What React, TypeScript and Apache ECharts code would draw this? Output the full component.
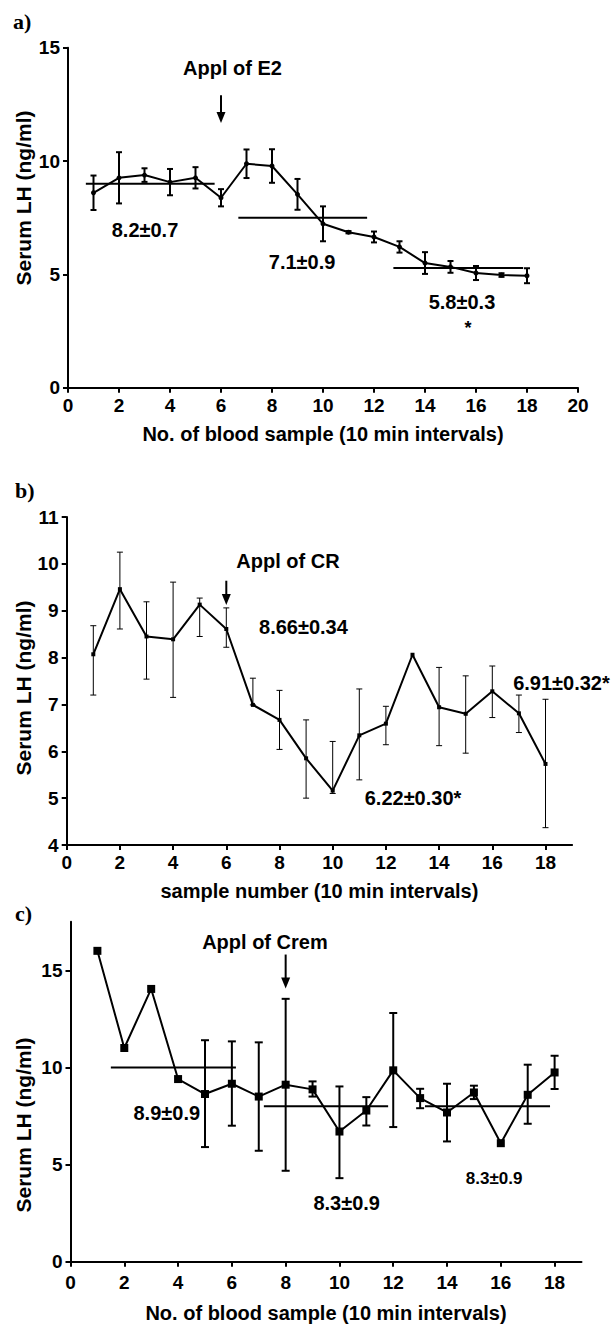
import React, { useEffect, useRef } from "react";
import * as echarts from "echarts";

// ---------- data ----------
const samples = [1, 2, 3, 4, 5, 6, 7, 8, 9, 10, 11, 12, 13, 14, 15, 16, 17, 18];

// Panel a) E2
const aMean = [8.6, 9.26, 9.38, 9.07, 9.26, 8.38, 9.88, 9.78, 8.53, 7.23, 6.86, 6.65, 6.21, 5.5, 5.33, 5.06, 4.97, 4.94];
const aSem = [0.76, 1.13, 0.3, 0.58, 0.47, 0.38, 0.63, 0.74, 0.68, 0.77, 0.05, 0.24, 0.25, 0.48, 0.26, 0.31, 0.08, 0.33];
const aMeanLines = [
  [0.7, 5.75, 9.0],
  [6.68, 11.73, 7.5],
  [12.76, 17.85, 5.28],
];
const aLabels = ["Appl of E2", "8.2±0.7", "7.1±0.9", "5.8±0.3", "*"];
const aXTicks = [0, 2, 4, 6, 8, 10, 12, 14, 16, 18, 20];
const aYTicks = [0, 5, 10, 15];

// Panel b) CR
const bMean = [8.07, 9.46, 8.45, 8.39, 9.13, 8.61, 6.99, 6.67, 5.85, 5.16, 6.34, 6.59, 8.06, 6.94, 6.8, 7.28, 6.81, 5.73];
const bHigh = [8.68, 10.25, 9.19, 9.61, 9.27, 9.06, 7.56, 7.3, 6.67, 6.21, 7.33, 6.96, null, 7.79, 7.61, 7.82, 7.2, 7.11];
const bLow = [7.2, 8.61, 7.54, 7.15, 8.45, 8.22, 6.99, 6.04, 5.0, 5.1, 5.39, 6.14, null, 6.12, 5.96, 6.72, 6.4, 4.37];
const bLabels = ["Appl of CR", "8.66±0.34", "6.22±0.30*", "6.91±0.32*"];
const bXTicks = [0, 2, 4, 6, 8, 10, 12, 14, 16, 18];
const bYTicks = [4, 5, 6, 7, 8, 9, 10, 11];

// Panel c) Crem
const cMean = [16.0, 11.0, 14.04, 9.4, 8.63, 9.16, 8.5, 9.11, 8.87, 6.7, 7.78, 9.85, 8.42, 7.68, 8.71, 6.1, 8.59, 9.74];
const cHigh = [null, null, null, null, 11.4, 11.34, 11.29, 13.53, 9.28, 9.02, 8.47, 12.8, 8.9, 9.16, 9.06, null, 10.14, 10.6];
const cLow = [null, null, null, null, 5.9, 7.0, 5.71, 4.68, 8.5, 4.3, 7.01, 6.93, 7.9, 6.19, 8.37, null, 7.1, 8.89];
const cMeanLines = [
  [1.5, 6.15, 10.0],
  [7.19, 11.81, 8.0],
  [13.18, 17.83, 8.0],
];
const cLabels = ["Appl of Crem", "8.9±0.9", "8.3±0.9", "8.3±0.9"];
const cXTicks = [0, 2, 4, 6, 8, 10, 12, 14, 16, 18];
const cYTicks = [0, 5, 10, 15];

// ---------- layout (annotation anchors in data units, sizes) ----------
const aNotePos = [
  { x: 6.45, y: 14.1, s: 20 },
  { x: 3.02, y: 6.95, s: 20 },
  { x: 9.18, y: 5.55, s: 20 },
  { x: 15.45, y: 3.78, s: 20 },
  { x: 15.69, y: 2.65, s: 18 },
];
const bNotePos = [
  { x: 8.32, y: 10.06, s: 20 },
  { x: 8.9, y: 8.65, s: 20 },
  { x: 13.02, y: 5.0, s: 20 },
  { x: 18.6, y: 7.46, s: 20 },
];
const cNotePos = [
  { x: 7.23, y: 16.43, s: 20 },
  { x: 3.58, y: 7.64, s: 20 },
  { x: 10.27, y: 3.01, s: 20 },
  { x: 15.75, y: 4.26, s: 17 },
];
const aArrow = [6, 12.9, 11.68];
const bArrow = [6, 9.64, 9.12];
const cArrow = [8, 15.81, 14.06];

const SANS = '"Liberation Sans", Arial, sans-serif';
const SERIF = '"Liberation Serif", "Times New Roman", serif';

function xAxisCfg(gridIndex: number, max: number, ticks: number[], name: string, nameGap: number, margin: number) {
  return {
    type: "value",
    gridIndex,
    min: 0,
    max,
    interval: 2,
    name,
    nameLocation: "middle",
    nameGap,
    nameTextStyle: { color: "#000", fontFamily: SANS, fontWeight: "bold", fontSize: 20 },
    axisLine: { show: true, onZero: false, lineStyle: { color: "#000", width: 2 } },
    axisTick: { show: true, length: 5, customValues: ticks, lineStyle: { color: "#000", width: 2 } },
    axisLabel: { color: "#000", fontFamily: SANS, fontWeight: "bold", fontSize: 19, margin, customValues: ticks },
    splitLine: { show: false },
  };
}

function yAxisCfg(gridIndex: number, min: number, max: number, interval: number, ticks: number[]) {
  return {
    type: "value",
    gridIndex,
    min,
    max,
    interval,
    axisLine: { show: true, onZero: false, lineStyle: { color: "#000", width: 2 } },
    axisTick: { show: true, length: 5, customValues: ticks, lineStyle: { color: "#000", width: 2 } },
    axisLabel: { color: "#000", fontFamily: SANS, fontWeight: "bold", fontSize: 19, margin: 8, customValues: ticks },
    splitLine: { show: false },
  };
}

function lineSeries(idx: number, means: number[], symbol: string, size: number) {
  return {
    type: "line",
    xAxisIndex: idx,
    yAxisIndex: idx,
    data: samples.map((x, i) => [x, means[i]]),
    symbol,
    symbolSize: size,
    showSymbol: true,
    lineStyle: { color: "#000", width: 2 },
    itemStyle: { color: "#000" },
    z: 4,
  };
}

function errorSeries(idx: number, lows: (number | null)[], highs: (number | null)[], cap: number, lw: number) {
  const data: number[][] = [];
  samples.forEach((x, i) => {
    const lo = lows[i];
    const hi = highs[i];
    if (lo != null && hi != null) data.push([x, lo, hi]);
  });
  return {
    type: "custom",
    xAxisIndex: idx,
    yAxisIndex: idx,
    data,
    encode: { x: 0, y: [1, 2] },
    z: 3,
    renderItem: (_p: any, api: any) => {
      const x = api.value(0);
      const lo = api.coord([x, api.value(1)]);
      const hi = api.coord([x, api.value(2)]);
      const style = { stroke: "#000", lineWidth: lw };
      return {
        type: "group",
        children: [
          { type: "line", shape: { x1: lo[0], y1: lo[1], x2: hi[0], y2: hi[1] }, style },
          { type: "line", shape: { x1: lo[0] - cap, y1: lo[1], x2: lo[0] + cap, y2: lo[1] }, style },
          { type: "line", shape: { x1: hi[0] - cap, y1: hi[1], x2: hi[0] + cap, y2: hi[1] }, style },
        ],
      };
    },
  };
}

function meanLineSeries(idx: number, lines: number[][]) {
  return {
    type: "custom",
    xAxisIndex: idx,
    yAxisIndex: idx,
    data: lines,
    encode: { x: [0, 1], y: 2 },
    z: 2,
    renderItem: (_p: any, api: any) => {
      const a = api.coord([api.value(0), api.value(2)]);
      const b = api.coord([api.value(1), api.value(2)]);
      return { type: "line", shape: { x1: a[0], y1: a[1], x2: b[0], y2: b[1] }, style: { stroke: "#000", lineWidth: 2 } };
    },
  };
}

function arrowSeries(idx: number, arrow: number[]) {
  return {
    type: "custom",
    xAxisIndex: idx,
    yAxisIndex: idx,
    data: [arrow],
    encode: { x: 0, y: [1, 2] },
    z: 5,
    renderItem: (_p: any, api: any) => {
      const t = api.coord([api.value(0), api.value(1)]);
      const h = api.coord([api.value(0), api.value(2)]);
      return {
        type: "group",
        children: [
          { type: "line", shape: { x1: t[0], y1: t[1], x2: h[0], y2: h[1] - 8 }, style: { stroke: "#000", lineWidth: 2 } },
          {
            type: "polygon",
            shape: { points: [[h[0] - 4.5, h[1] - 11], [h[0] + 4.5, h[1] - 11], [h[0], h[1]]] },
            style: { fill: "#000" },
          },
        ],
      };
    },
  };
}

function noteSeries(idx: number, texts: string[], pos: { x: number; y: number; s: number }[]) {
  return {
    type: "custom",
    xAxisIndex: idx,
    yAxisIndex: idx,
    data: pos.map((p) => [p.x, p.y]),
    encode: { x: 0, y: 1 },
    z: 6,
    clip: false,
    renderItem: (params: any, api: any) => {
      const p = api.coord([api.value(0), api.value(1)]);
      const s = pos[params.dataIndex].s;
      return {
        type: "text",
        x: p[0],
        y: p[1],
        style: {
          text: texts[params.dataIndex],
          fill: "#000",
          font: `bold ${s}px ${SANS}`,
          align: "center",
          verticalAlign: "middle",
        },
      };
    },
  };
}

function yTitle(x: number, y: number) {
  return {
    type: "text",
    x,
    y,
    rotation: Math.PI / 2,
    style: {
      text: "Serum LH (ng/ml)",
      fill: "#000",
      font: `bold 21px ${SANS}`,
      align: "center",
      verticalAlign: "middle",
    },
  };
}

function panelLetter(text: string, x: number, y: number) {
  return {
    type: "text",
    x,
    y,
    style: { text, fill: "#000", font: `bold 22px ${SERIF}`, align: "left", verticalAlign: "middle" },
  };
}

export default function App() {
  const ref = useRef<HTMLDivElement>(null);

  useEffect(() => {
    document.body.style.margin = "0";
    if (!ref.current) return;
    const chart = echarts.init(ref.current, null, { renderer: "svg" });
    chart.setOption({
      animation: false,
      backgroundColor: "#fff",
      grid: [
        { left: 68, top: 47.7, width: 510, height: 340 },
        { left: 66.7, top: 517, width: 505.4, height: 328 },
        { left: 70.5, top: 921.7, width: 511, height: 340 },
      ],
      xAxis: [
        xAxisCfg(0, 20, aXTicks, "No. of blood sample (10 min intervals)", 36, 8),
        xAxisCfg(1, 19, bXTicks, "sample number (10 min intervals)", 36, 8),
        xAxisCfg(2, 19, cXTicks, "No. of blood sample (10 min intervals)", 41, 11),
      ],
      yAxis: [
        yAxisCfg(0, 0, 15, 5, aYTicks),
        yAxisCfg(1, 4, 11, 1, bYTicks),
        yAxisCfg(2, 0, 17.5, 5, cYTicks),
      ],
      graphic: [
        panelLetter("a)", 13, 21),
        panelLetter("b)", 15, 490),
        panelLetter("c)", 15, 913),
        yTitle(23, 198),
        yTitle(23, 688),
        yTitle(23, 1125),
      ],
      series: [
        meanLineSeries(0, aMeanLines),
        errorSeries(0, aMean.map((m, i) => m - aSem[i]), aMean.map((m, i) => m + aSem[i]), 3, 2),
        lineSeries(0, aMean, "circle", 5),
        arrowSeries(0, aArrow),
        noteSeries(0, aLabels, aNotePos),

        errorSeries(1, bLow, bHigh, 3, 1),
        lineSeries(1, bMean, "rect", 4),
        arrowSeries(1, bArrow),
        noteSeries(1, bLabels, bNotePos),

        meanLineSeries(2, cMeanLines),
        errorSeries(2, cLow, cHigh, 4, 2),
        lineSeries(2, cMean, "rect", 8),
        arrowSeries(2, cArrow),
        noteSeries(2, cLabels, cNotePos),
      ],
    });
    return () => chart.dispose();
  }, []);

  return <div ref={ref} style={{ width: 613, height: 1327 }} />;
}
